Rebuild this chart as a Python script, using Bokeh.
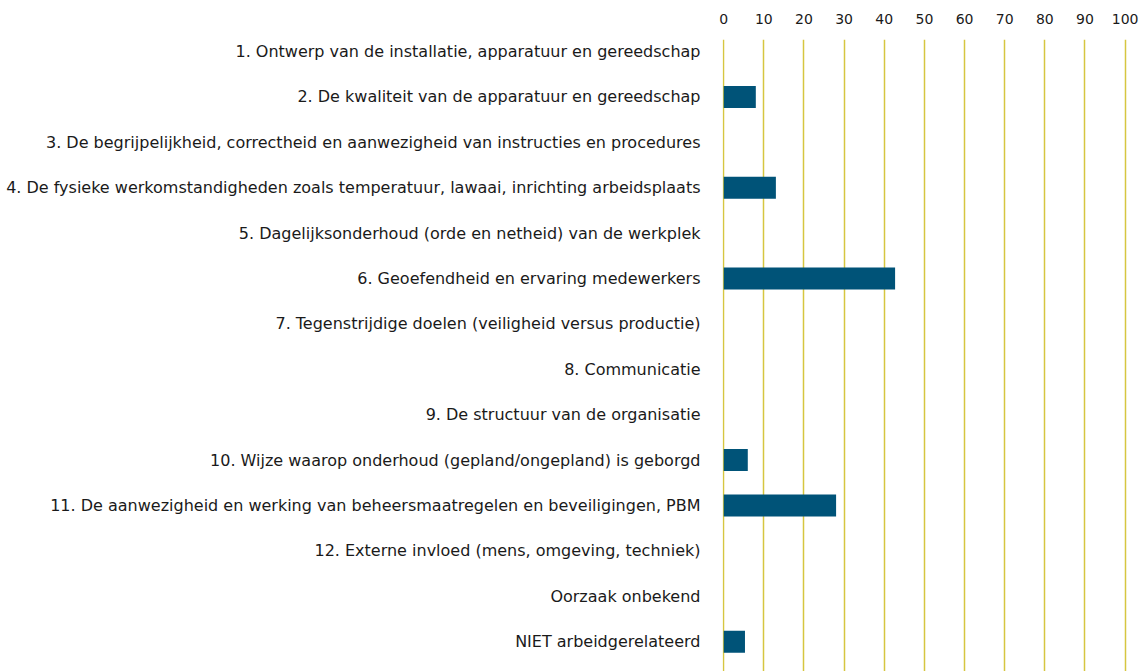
from bokeh.plotting import figure
from bokeh.models import Range1d, FixedTicker, ColumnDataSource
from bokeh.embed import file_html
from bokeh.resources import INLINE

categories = [
    "1. Ontwerp van de installatie, apparatuur en gereedschap",
    "2. De kwaliteit van de apparatuur en gereedschap",
    "3. De begrijpelijkheid, correctheid en aanwezigheid van instructies en procedures",
    "4. De fysieke werkomstandigheden zoals temperatuur, lawaai, inrichting arbeidsplaats",
    "5. Dagelijksonderhoud (orde en netheid) van de werkplek",
    "6. Geoefendheid en ervaring medewerkers",
    "7. Tegenstrijdige doelen (veiligheid versus productie)",
    "8. Communicatie",
    "9. De structuur van de organisatie",
    "10. Wijze waarop onderhoud (gepland/ongepland) is geborgd",
    "11. De aanwezigheid en werking van beheersmaatregelen en beveiligingen, PBM",
    "12. Externe invloed (mens, omgeving, techniek)",
    "Oorzaak onbekend",
    "NIET arbeidgerelateerd",
]
values = [0, 8, 0, 13, 0, 42.7, 0, 0, 0, 6, 28, 0, 0, 5.3]
x_ticks = [0, 10, 20, 30, 40, 50, 60, 70, 80, 90, 100]

positions = [-i for i in range(len(categories))]
src = ColumnDataSource(dict(y=positions, v=values, cat=categories))

FONT = "DejaVu Sans"

p = figure(
    width=1146, height=671,
    x_range=Range1d(-0.3, 100.6), y_range=Range1d(-13.656, 0.264),
    output_backend="svg", toolbar_location=None,
    x_axis_location="above",
    min_border_left=722, min_border_right=19, min_border_top=39, min_border_bottom=0,
)
p.outline_line_color = None
p.background_fill_color = "white"
p.border_fill_color = "white"

p.hbar(y="y", left=0, right="v", height=0.485, source=src,
       fill_color="#005378", line_color=None)

# x axis (top)
xa = p.xaxis[0]
xa.ticker = FixedTicker(ticks=x_ticks)
xa.axis_line_color = None
xa.major_tick_line_color = None
xa.minor_tick_line_color = None
xa.major_label_text_font = FONT
xa.major_label_text_font_size = "14px"
xa.major_label_text_color = "#1a1a1a"
xa.major_label_standoff = 10

# y axis (left)
ya = p.yaxis[0]
ya.ticker = FixedTicker(ticks=positions)
ya.major_label_overrides = {pos: c for pos, c in zip(positions, categories)}
ya.axis_line_color = None
ya.major_tick_line_color = None
ya.minor_tick_line_color = None
ya.major_label_text_font = FONT
ya.major_label_text_font_size = "16px"
ya.major_label_text_color = "#1a1a1a"
ya.major_label_standoff = 16

p.xgrid.ticker = FixedTicker(ticks=x_ticks)
p.xgrid.grid_line_color = "#d6c640"
p.xgrid.grid_line_width = 1.5
p.ygrid.grid_line_color = None

open("out.html", "w").write(file_html(p, INLINE))
